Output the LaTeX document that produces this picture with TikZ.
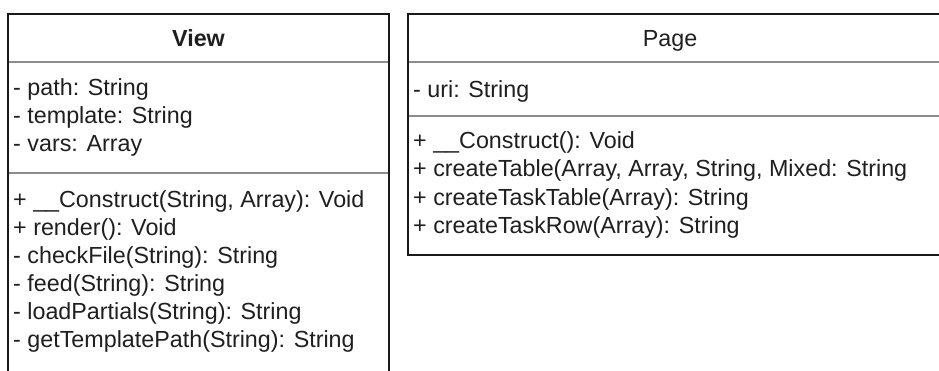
\documentclass[tikz,border=0pt]{standalone}
\usepackage{fontspec}
\setmainfont{Liberation Sans}
\begin{document}
\begin{tikzpicture}[x=1pt,y=-1pt,
  txt/.style={anchor=base west, inner sep=0pt, font=\fontsize{23.3}{28}\selectfont, text=black!88},
  hdr/.style={anchor=base, inner sep=0pt, font=\fontsize{23.3}{28}\selectfont, text=black!88},
  border/.style={draw=black!90, line width=1.4pt},
  divider/.style={draw=black!45, line width=1.3pt}]
\useasboundingbox (0,0) rectangle (939,370);
\fill[white] (0,0) rectangle (939,370);
\clip (0,0) rectangle (939,370);
% ---- View class ----
\draw[divider] (8,62) -- (389,62);
\draw[divider] (8,173) -- (389,173);
\draw[border] (8,395) -- (8,14) -- (389,14) -- (389,395);
\node[hdr, font=\fontsize{23.3}{28}\selectfont\bfseries] (viewname) at (198.5,46) {View};
\node[txt] (va1) at (13,95.5) {- path: String};
\node[txt] (va2) at (13,123.3) {- template: String};
\node[txt] (va3) at (13,151) {- vars: Array};
\node[txt] (vm1) at (13,207) {+ \_\_Construct(String, Array): Void};
\node[txt] (vm2) at (13,235) {+ render(): Void};
\node[txt] (vm3) at (13,263) {- checkFile(String): String};
\node[txt] (vm4) at (13,291) {- feed(String): String};
\node[txt] (vm5) at (13,319) {- loadPartials(String): String};
\node[txt] (vm6) at (13,347) {- getTemplatePath(String): String};
% ---- Page class ----
\draw[divider] (408,62) -- (950,62);
\draw[divider] (408,116) -- (950,116);
\draw[border] (408,14) rectangle (950,255);
\node[hdr] (pagename) at (670,46) {Page};
\node[txt] (pa1) at (413,97) {- uri: String};
\node[txt] (pm1) at (413,148) {+ \_\_Construct(): Void};
\node[txt] (pm2) at (413,176.5) {+ createTable(Array, Array, String, Mixed: String};
\node[txt] (pm3) at (413,205) {+ createTaskTable(Array): String};
\node[txt] (pm4) at (413,233) {+ createTaskRow(Array): String};
\end{tikzpicture}
\end{document}
